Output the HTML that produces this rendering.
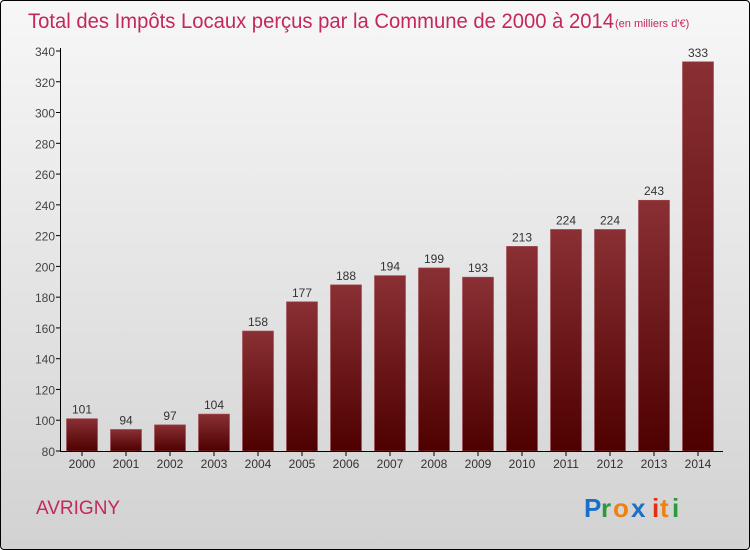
<!DOCTYPE html>
<html><head><meta charset="utf-8"><style>
body{margin:0;}
#c{position:relative;width:748px;height:548px;border:1px solid #000;border-radius:4px;overflow:hidden;background:linear-gradient(#f7f7f7,#d2d2d2);font-family:"Liberation Sans",sans-serif;}
</style></head><body>
<div id="c">
<svg width="748" height="548">
<defs><linearGradient id="bg" x1="0" y1="0" x2="0" y2="1"><stop offset="0" stop-color="#8a3035"/><stop offset="1" stop-color="#4e0000"/></linearGradient></defs>
<text x="27" y="27" font-size="21" fill="#c4285a" textLength="586" lengthAdjust="spacingAndGlyphs">Total des Impôts Locaux perçus par la Commune de 2000 à 2014</text>
<text x="614" y="26" font-size="11" fill="#c4285a">(en milliers d'€)</text>
<g id="ax"></g>
<text x="35" y="513" font-size="19" fill="#c4285a">AVRIGNY</text>
<g font-size="26" font-weight="bold">
<text x="583" y="516" fill="#1a70c8">P</text><text x="600" y="516" fill="#2a9a3a">r</text><text x="612" y="516" fill="#f08010">o</text><text x="630" y="516" fill="#1a70c8">x</text><text x="651" y="516" fill="#e03010">i</text><text x="659" y="516" fill="#f08010">t</text><text x="671" y="516" fill="#2a9a3a">i</text></g>
</svg></div>
<script>
const years=["2000","2001","2002","2003","2004","2005","2006","2007","2008","2009","2010","2011","2012","2013","2014"];
const values=[101,94,97,104,158,177,188,194,199,193,213,224,224,243,333];
const ticks=[80,100,120,140,160,180,200,220,240,260,280,300,320,340];
const ns="http://www.w3.org/2000/svg",g=document.getElementById('ax');
const y=v=>450-(v-80)*400/260, x=i=>81+i*44;
function el(t,a,txt){const e=document.createElementNS(ns,t);for(const k in a)e.setAttribute(k,a[k]);if(txt!==undefined)e.textContent=txt;g.appendChild(e);return e;}
ticks.forEach(t=>{
 let l=el('line',{x1:55,x2:60,y1:y(t),y2:y(t),stroke:'#000'});
 
 
 let s=el('text',{x:54,y:y(t)+5,'text-anchor':'end','font-size':12,fill:'#444'},t);
 
 
});
values.forEach((v,i)=>{
 let r=el('rect',{x:x(i)-15.5,y:y(v),width:31,height:450-y(v),fill:'url(#bg)',stroke:'#a04a50','stroke-width':0.6});
 
 
 let t=el('text',{x:x(i),y:y(v)-5,'text-anchor':'middle','font-size':12,fill:'#333'},v);
 
 
 let tk=el('line',{x1:x(i),x2:x(i),y1:450,y2:455,stroke:'#000'});
 
 
 let yl=el('text',{x:x(i),y:467,'text-anchor':'middle','font-size':12,fill:'#333'},years[i]);
 
 
});
let ya=el('line',{x1:59.5,x2:59.5,y1:y(340)-3,y2:450.5,stroke:'#000'});


let xa=el('line',{x1:59,x2:722,y1:450.5,y2:450.5,stroke:'#000'});


</script>
</body></html>
